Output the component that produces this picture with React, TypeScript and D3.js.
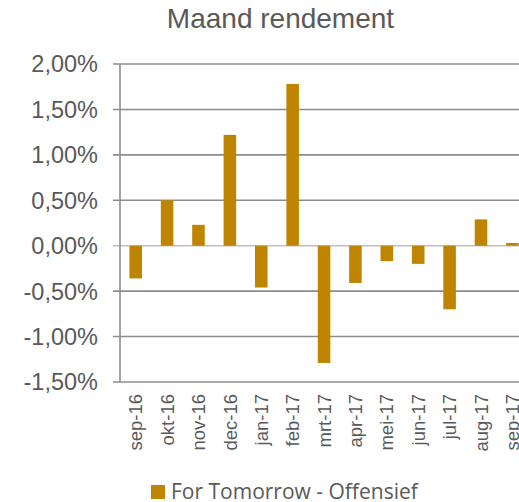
import React, { useRef, useEffect } from 'react';
import * as d3 from 'd3';

const months: string[] = [
  'sep-16', 'okt-16', 'nov-16', 'dec-16', 'jan-17', 'feb-17', 'mrt-17',
  'apr-17', 'mei-17', 'jun-17', 'jul-17', 'aug-17', 'sep-17',
];
const returns: number[] = [
  -0.36, 0.5, 0.23, 1.22, -0.46, 1.78, -1.29, -0.41, -0.17, -0.2, -0.7, 0.29, 0.03,
];
const yTicks: number[] = [2, 1.5, 1, 0.5, 0, -0.5, -1, -1.5];
const seriesName = 'For Tomorrow - Offensief';
const title = 'Maand rendement';

const W = 519;
const H = 502;
const left = 120;
const top = 64;
const bottom = 382;
const step = 31.39;

const App: React.FC = () => {
  const svgRef = useRef<SVGSVGElement | null>(null);

  useEffect(() => {
    const svg = d3.select(svgRef.current!);
    svg.selectAll('*').remove();

    const x = d3.scaleBand()
      .domain(months)
      .range([left, left + step * months.length])
      .paddingInner(0.6)
      .paddingOuter(0.3);

    const y = d3.scaleLinear().domain([-1.5, 2]).range([bottom, top]);

    const fmt = (v: number) => v.toFixed(2).replace('.', ',') + '%';

    // gridlines
    svg.append('g')
      .selectAll('line')
      .data(yTicks)
      .enter()
      .append('line')
      .attr('x1', left - 7)
      .attr('x2', W)
      .attr('y1', (d) => y(d))
      .attr('y2', (d) => y(d))
      .attr('stroke', (d) => (d === 0 ? '#bfbfbf' : '#8c8c8c'))
      .attr('stroke-width', 1.6);

    svg.append('line')
      .attr('x1', left).attr('x2', left)
      .attr('y1', top).attr('y2', bottom)
      .attr('stroke', '#8c8c8c')
      .attr('stroke-width', 1.6);

    svg.append('g')
      .selectAll('rect')
      .data(returns)
      .enter()
      .append('rect')
      .attr('x', (d, i) => x(months[i])!)
      .attr('width', x.bandwidth())
      .attr('y', (d) => y(Math.max(0, d)))
      .attr('height', (d) => Math.abs(y(d) - y(0)))
      .attr('fill', '#c08500');

    svg.append('g')
      .selectAll('text')
      .data(yTicks)
      .enter()
      .append('text')
      .attr('x', 98)
      .attr('y', (d) => y(d))
      .attr('dy', '0.36em')
      .attr('text-anchor', 'end')
      .attr('font-family', 'Liberation Sans, Arial, sans-serif')
      .attr('font-size', 23.5)
      .attr('fill', '#595959')
      .text((d) => fmt(d));

    svg.append('g')
      .selectAll('text')
      .data(months)
      .enter()
      .append('text')
      .attr('transform', (d) => `translate(${x(d)! + x.bandwidth() / 2},394) rotate(-90)`)
      .attr('dy', '0.36em')
      .attr('text-anchor', 'end')
      .attr('font-family', 'Liberation Sans, Arial, sans-serif')
      .attr('font-size', 18.5)
      .attr('fill', '#595959')
      .text((d) => d);

    svg.append('text')
      .attr('x', 280.5)
      .attr('y', 27.7)
      .attr('text-anchor', 'middle')
      .attr('font-family', 'Liberation Sans, Arial, sans-serif')
      .attr('font-size', 28)
      .attr('fill', '#595959')
      .text(title);

    svg.append('rect')
      .attr('x', 151).attr('y', 485)
      .attr('width', 14).attr('height', 14)
      .attr('fill', '#c08500');

    svg.append('text')
      .attr('x', 171)
      .attr('y', 498.5)
      .attr('font-family', 'Open Sans, sans-serif')
      .attr('font-size', 21)
      .attr('fill', '#595959')
      .text(seriesName);
  }, []);

  return (
    <svg
      ref={svgRef}
      width={W}
      height={H}
      style={{ position: 'absolute', left: 0, top: 0, overflow: 'hidden', background: '#fff' }}
    ></svg>
  );
};

export default App;
